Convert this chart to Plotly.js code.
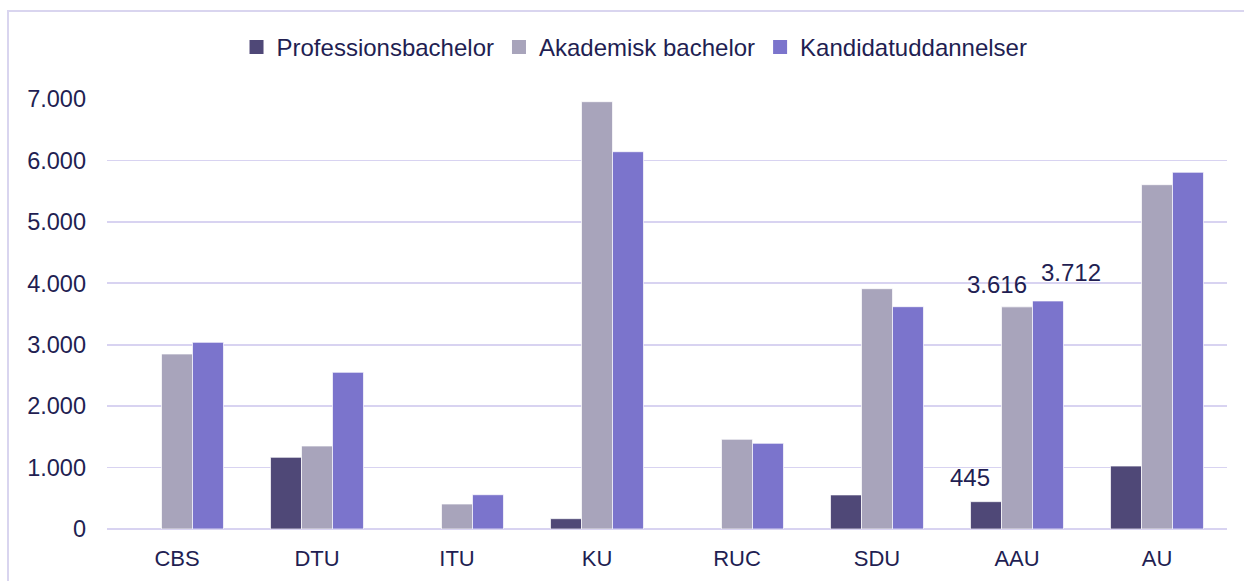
<!DOCTYPE html>
<html>
<head>
<meta charset="utf-8">
<script src="https://cdn.plot.ly/plotly-3.0.1.min.js"></script>
<style>
  html, body { margin: 0; padding: 0; background: #ffffff; }
  #wrap { position: relative; width: 1244px; height: 581px; overflow: hidden; }
  #chart { position: absolute; left: 0; top: 0; width: 1244px; height: 581px; }
  #frame { position: absolute; left: 7px; top: 10px; width: 1300px; height: 700px;
           border-left: 2px solid #d9d5ef; border-top: 2px solid #d9d5ef; pointer-events: none; }
</style>
</head>
<body>
<div id="wrap">
  <div id="chart"></div>
  <div id="frame"></div>
</div>
<script>
// Data
const categories = ['CBS', 'DTU', 'ITU', 'KU', 'RUC', 'SDU', 'AAU', 'AU'];
const seriesNames = ['Professionsbachelor', 'Akademisk bachelor', 'Kandidatuddannelser'];
const professionsbachelor = [null, 1167, null, 168, null, 555, 445, 1025];
const akademiskBachelor = [2849, 1351, 407, 6956, 1460, 3912, 3616, 5605];
const kandidatuddannelser = [3039, 2551, 558, 6142, 1395, 3619, 3712, 5807];
const yTickValues = [0, 1000, 2000, 3000, 4000, 5000, 6000, 7000];

const colors = ['#4f4877', '#a8a4bb', '#7b74cc'];
const textColor = '#221e52';
const gridColor = '#d8d3f1';
const FONT = 'Liberation Sans, Arial, sans-serif';

function fmt(v) {
  return String(Math.round(v)).replace(/\B(?=(\d{3})+(?!\d))/g, '.');
}

const allSeries = [professionsbachelor, akademiskBachelor, kandidatuddannelser];
const barTraces = allSeries.map((vals, i) => ({
  type: 'bar',
  name: seriesNames[i],
  x: categories,
  y: vals,
  showlegend: false,
  marker: { color: colors[i], line: { color: 'rgba(255,255,255,0.7)', width: 1 } },
  hoverinfo: 'x+y+name'
}));
// Legend-only entries with larger square swatches
const legendTraces = seriesNames.map((n, i) => ({
  type: 'scatter', mode: 'markers',
  name: n, x: [null], y: [null],
  marker: { symbol: 'square', size: 14, color: colors[i] },
  showlegend: true
}));

// Data labels on AAU (manually offset in the original)
const aauIdx = categories.indexOf('AAU');
const labelCfg = [
  { series: 0, xshift: -47, yshift: 9 },
  { series: 1, xshift: -20, yshift: 7 },
  { series: 2, xshift: 54, yshift: 13 }
];
const annotations = labelCfg.map(c => ({
  x: categories[aauIdx],
  y: allSeries[c.series][aauIdx],
  xref: 'x', yref: 'y',
  text: fmt(allSeries[c.series][aauIdx]),
  showarrow: false,
  xanchor: 'center', yanchor: 'bottom',
  xshift: c.xshift, yshift: c.yshift,
  font: { family: FONT, size: 24, color: textColor }
}));

const layout = {
  width: 1244, height: 581,
  margin: { l: 107, r: 17, t: 99, b: 52 },
  paper_bgcolor: 'rgba(0,0,0,0)',
  plot_bgcolor: 'rgba(0,0,0,0)',
  separators: ',.',
  barmode: 'group',
  bargap: 0.336,
  bargroupgap: 0,
  font: { family: FONT, size: 22, color: textColor },
  showlegend: true,
  legend: {
    orientation: 'h',
    x: 0.471, xanchor: 'center',
    y: 1.12, yanchor: 'middle',
    font: { family: FONT, size: 24, color: textColor },
    itemwidth: 30,
    traceorder: 'normal'
  },
  xaxis: {
    type: 'category',
    tickfont: { family: FONT, size: 22, color: textColor },
    showgrid: false, zeroline: false, showline: false,
    ticks: '', ticklabelstandoff: 14
  },
  yaxis: {
    range: [0, 7000],
    tickvals: yTickValues,
    ticktext: yTickValues.map(fmt),
    tickfont: { family: FONT, size: 23.5, color: textColor },
    showgrid: true, gridcolor: gridColor, gridwidth: 1.8,
    zeroline: true, zerolinecolor: gridColor, zerolinewidth: 1.8,
    showline: false, ticks: '', ticklabelstandoff: 20
  },
  annotations: annotations
};

Plotly.newPlot('chart', barTraces.concat(legendTraces), layout, { displayModeBar: false, staticPlot: true });
</script>
</body>
</html>
